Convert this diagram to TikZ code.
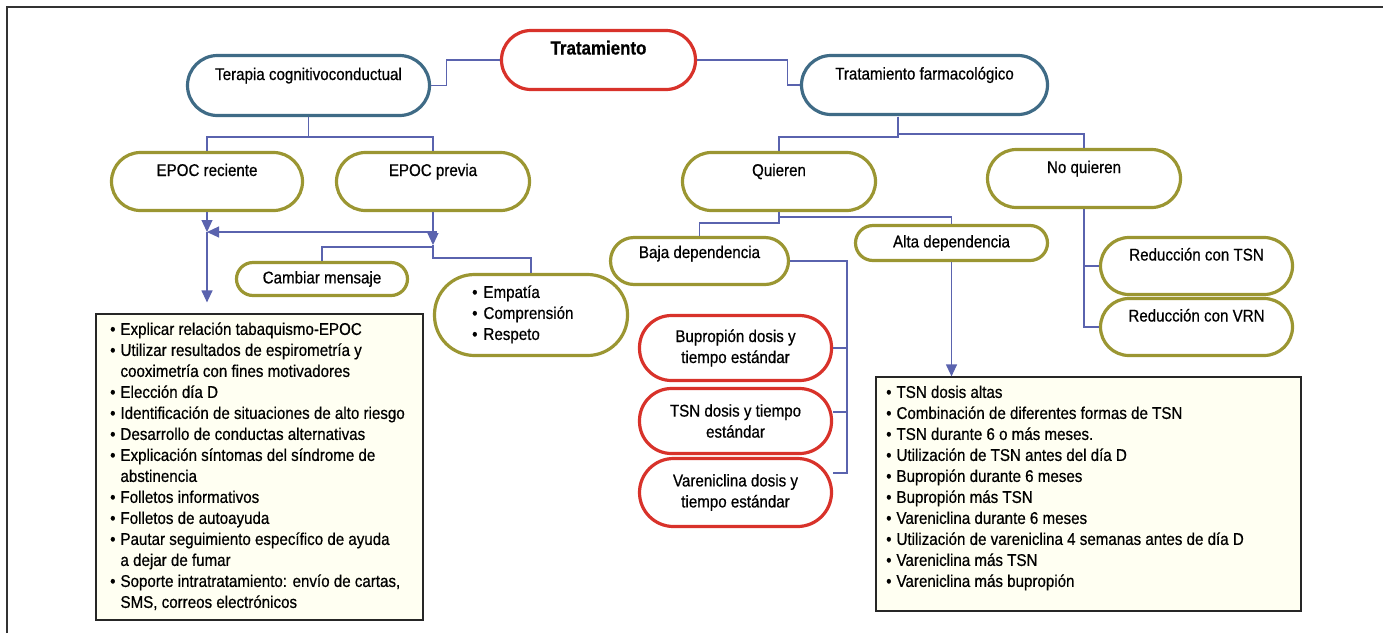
\documentclass[tikz,border=0pt]{standalone}
\usepackage{fontspec}
\setmainfont{Liberation Sans}[FakeStretch=0.89,FakeBold=0.6]
\usetikzlibrary{arrows.meta}
\definecolor{cred}{HTML}{D8322A}
\definecolor{cblue}{HTML}{3F6B86}
\definecolor{colive}{HTML}{9B9632}
\definecolor{cline}{HTML}{5A63AE}
\definecolor{cfill}{HTML}{FFFFF2}
\begin{document}
\begin{tikzpicture}[x=1pt,y=-1pt,
  font=\fontsize{17}{21}\selectfont,
  capsule/.style={draw, line width=3.2pt, fill=white, inner sep=0pt, align=center, rounded corners=#1},
  redc/.style={capsule=#1, draw=cred},
  bluec/.style={capsule=#1, draw=cblue},
  olivec/.style={capsule=#1, draw=colive},
  upt/.style={text height=12pt, text depth=23pt},
  upb/.style={text height=12pt, text depth=18pt},
  listbox/.style={draw=black!85, line width=1.2pt, fill=cfill, inner sep=0pt},
  listtext/.style={anchor=north west, inner sep=0pt, align=left},
  conn/.style={draw=cline, line width=1.2pt},
  arr/.style={conn, -{Triangle[length=12pt,width=11pt]}}
]
\useasboundingbox (0,0) rectangle (1383,633);
\draw[line width=1.5pt, draw=black!80] (7,633) -- (7,7) -- (1383,7);

% top level
\node[redc=29.5pt, upt, minimum width=194pt, minimum height=59pt, font=\fontsize{19}{23}\selectfont\bfseries] (trat) at (598.5,60) {Tratamiento};
\node[bluec=30pt, upt, minimum width=242pt, minimum height=60pt] (tcc) at (308.5,85.5) {Terapia cognitivoconductual};
\node[bluec=29.5pt, upt, minimum width=246pt, minimum height=59pt] (tf) at (924.5,85) {Tratamiento farmacológico};

% second level
\node[olivec=29pt, upt, minimum width=191pt, minimum height=58pt] (epr) at (207,181.5) {EPOC reciente};
\node[olivec=29pt, upt, minimum width=193pt, minimum height=58pt] (epp) at (433,181.5) {EPOC previa};
\node[olivec=29pt, upt, minimum width=193pt, minimum height=58pt] (qui) at (779,181.5) {Quieren};
\node[olivec=29pt, upt, minimum width=193pt, minimum height=58pt] (noq) at (1084,178.5) {No quieren};

% third level
\node[olivec=23.5pt, upb, minimum width=178pt, minimum height=47pt] (baja) at (699.5,261) {Baja dependencia};
\node[olivec=17.5pt, minimum width=192pt, minimum height=35pt] (alta) at (951.5,243) {Alta dependencia};
\node[olivec=16.5pt, minimum width=171pt, minimum height=33pt] (camb) at (322,279) {Cambiar mensaje};
\node[olivec=40pt, minimum width=193pt, minimum height=81pt] (emp) at (531,315) {};
\node[listtext] (empt) at (472,283) {\begin{tabular}{@{}l@{\hspace{6pt}}l@{}}
\textbullet & Empatía\\
\textbullet & Comprensión\\
\textbullet & Respeto
\end{tabular}};

\node[olivec=28.5pt, upt, minimum width=192pt, minimum height=57pt] (rtsn) at (1196.5,266) {Reducción con TSN};
\node[olivec=28.5pt, upt, minimum width=192pt, minimum height=57pt] (rvrn) at (1196.5,327) {Reducción con VRN};

\node[redc=32pt, minimum width=192pt, minimum height=65pt] (bup) at (735.5,348) {Bupropión dosis y\\tiempo estándar};
\node[redc=32pt, minimum width=192pt, minimum height=65pt] (tsn) at (735.5,421) {TSN dosis y tiempo\\estándar};
\node[redc=34pt, minimum width=192pt, minimum height=68pt] (var) at (735.5,492.5) {Vareniclina dosis y\\tiempo estándar};

% list boxes
\node[listbox, minimum width=327pt, minimum height=306pt] (lbox) at (259.5,467) {};
\node[listtext] (lboxt) at (110,320) {\begin{tabular}{@{}l@{\hspace{5pt}}l@{}}
\textbullet & Explicar relación tabaquismo-EPOC\\
\textbullet & Utilizar resultados de espirometría y\\
 & cooximetría con fines motivadores\\
\textbullet & Elección día D\\
\textbullet & Identificación de situaciones de alto riesgo\\
\textbullet & Desarrollo de conductas alternativas\\
\textbullet & Explicación síntomas del síndrome de\\
 & abstinencia\\
\textbullet & Folletos informativos\\
\textbullet & Folletos de autoayuda\\
\textbullet & Pautar seguimiento específico de ayuda\\
 & a dejar de fumar\\
\textbullet & Soporte intratratamiento: envío de cartas,\\
 & SMS, correos electrónicos
\end{tabular}};

\node[listbox, minimum width=425pt, minimum height=234pt] (rbox) at (1088.5,494) {};
\node[listtext] (rboxt) at (886,383) {\begin{tabular}{@{}l@{\hspace{5pt}}l@{}}
\textbullet & TSN dosis altas\\
\textbullet & Combinación de diferentes formas de TSN\\
\textbullet & TSN durante 6 o más meses.\\
\textbullet & Utilización de TSN antes del día D\\
\textbullet & Bupropión durante 6 meses\\
\textbullet & Bupropión más TSN\\
\textbullet & Vareniclina durante 6 meses\\
\textbullet & Utilización de vareniclina 4 semanas antes de día D\\
\textbullet & Vareniclina más TSN\\
\textbullet & Vareniclina más bupropión
\end{tabular}};

% connectors: top
\draw[conn] (tcc.east) -- ++(15,0) |- (trat.west);
\draw[conn] (trat.east) -- ++(90,0) |- (tf.west);
\coordinate (t1) at (308.5,137);
\draw[conn] (tcc.south) -- (t1) -| (epr.north);
\draw[conn] (t1) -| (epp.north);
\coordinate (f0) at (898,116.5);
\draw[conn] (f0) -- ++(0,20.5) -| (qui.north);
\draw[conn] (f0) -- ++(0,17.5) -| (noq.north);

% left arrows
\coordinate (j1) at (207,232);
\coordinate (j2) at (437,232);
\coordinate (j3) at (433,245);
\coordinate (j4) at (433,247);
\draw[arr] (epr.south) -- (j1);
\draw[arr] (j2) -- (j1);
\draw[arr, shorten >=11pt] (j1) -- (lbox.north -| j1);
\draw[arr] (epp.south) -- (j3);
\draw[conn] (j3) -- ++(0,13) -| (emp.north);
\draw[conn] (camb.north) |- (j4);

% Quieren branch
\coordinate (q1) at (779,217);
\coordinate (q2) at (779,223);
\draw[conn] (qui.south) -- (q2) -| (baja.north);
\draw[conn] (q1) -| (alta.north);

% Baja branch
\coordinate (bend) at (847,473);
\draw[conn] (baja.east) -| (bend) -- (var.east |- bend);
\draw[conn] (bup.east) -- (bup.east -| bend);
\draw[conn] ([yshift=9pt]tsn.east) -- ([yshift=9pt]tsn.east -| bend);

% Alta branch
\draw[arr] (alta.south) -- (alta.south |- rbox.north);

% No quieren branch
\draw[conn] (noq.south) |- (rvrn.west);
\draw[conn] (noq.south |- rtsn.west) -- (rtsn.west);
\end{tikzpicture}
\end{document}
